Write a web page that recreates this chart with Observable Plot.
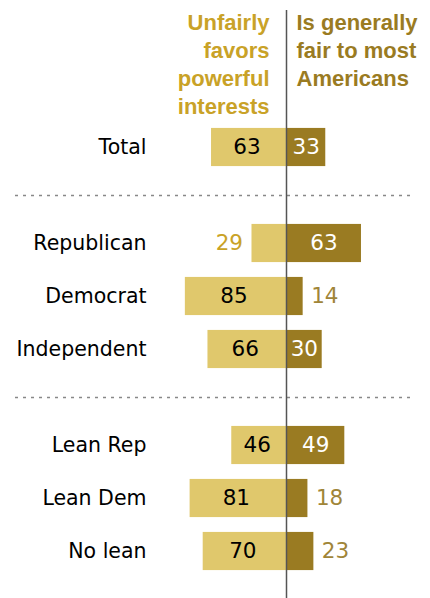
<!DOCTYPE html>
<html><head><meta charset="utf-8">
<script src="https://cdn.jsdelivr.net/npm/d3@7"></script>
<script src="https://cdn.jsdelivr.net/npm/@observablehq/plot@0.6"></script>
<style>body{margin:0;background:#fff}</style>
</head><body><div id="chart"></div>
<script>
const categories = ["Total", "Republican", "Democrat", "Independent", "Lean Rep", "Lean Dem", "No lean"];
const groups = [0, 1, 1, 1, 2, 2, 2];
const unfair = [63, 29, 85, 66, 46, 81, 70];
const fair = [33, 63, 14, 30, 49, 18, 23];
const headers = ["Unfairly\nfavors\npowerful\ninterests", "Is generally\nfair to most\nAmericans"];

const GAP = 43 / 53; // extra space between groups, in rows
const rows = categories.map((c, i) => ({category: c, group: groups[i], pos: i + groups[i] * GAP, unfair: unfair[i], fair: fair[i]}));
const separators = [1, 2].map(g => {
  const a = rows.filter(r => r.group === g - 1).at(-1), b = rows.find(r => r.group === g);
  return {pos: (a.pos + b.pos) / 2};
});
const maxPos = rows.at(-1).pos;
const H = 0.36;
const light = "#e0c86c", dark = "#9a7b22", gold = "#c9a227", darkText = "#a08538";
const MIN_IN = 30;

const plot = Plot.plot({
  width: 430, height: 598,
  marginTop: 10, marginBottom: 0, marginLeft: 15, marginRight: 17,
  x: {domain: [-100, 100], range: [167, 405], axis: null},
  y: {domain: [0, maxPos], range: [147, 551], axis: null},
  style: {fontFamily: "DejaVu Sans", background: "#fff"},
  marks: [
    Plot.ruleY(separators, {y: "pos", stroke: "#888", strokeWidth: 1.5, strokeDasharray: "3,5"}),
    Plot.rectX(rows, {x1: 0, x2: d => -d.unfair, y1: d => d.pos - H, y2: d => d.pos + H, fill: light}),
    Plot.rectX(rows, {x1: 0, x2: "fair", y1: d => d.pos - H, y2: d => d.pos + H, fill: dark}),
    Plot.ruleX([0], {stroke: "#555", strokeWidth: 1.5}),
    Plot.text(rows, {x: -100, dx: -21, y: "pos", text: "category", textAnchor: "end", fontSize: 20.5, fill: "#000"}),
    Plot.text(rows.filter(d => d.unfair >= MIN_IN), {x: d => -d.unfair / 2, dx: -2, y: "pos", text: "unfair", fontSize: 21.5, fill: "#000"}),
    Plot.text(rows.filter(d => d.unfair < MIN_IN), {x: d => -d.unfair, dx: -9, y: "pos", text: "unfair", textAnchor: "end", fontSize: 21.5, fill: gold}),
    Plot.text(rows.filter(d => d.fair >= MIN_IN), {x: d => d.fair / 2, y: "pos", text: "fair", fontSize: 21.5, fill: "#fff"}),
    Plot.text(rows.filter(d => d.fair < MIN_IN), {x: "fair", dx: 8, y: "pos", text: "fair", textAnchor: "start", fontSize: 21.5, fill: darkText}),
    Plot.text([headers[0]], {x: 0, dx: -17, frameAnchor: "top", dy: 0, text: d => d, textAnchor: "end", lineAnchor: "top", lineHeight: 1.27, fontSize: 22, fontWeight: "bold", fontFamily: "Liberation Sans", fill: gold}),
    Plot.text([headers[1]], {x: 0, dx: 10, frameAnchor: "top", dy: 0, text: d => d, textAnchor: "start", lineAnchor: "top", lineHeight: 1.27, fontSize: 22, fontWeight: "bold", fontFamily: "Liberation Sans", fill: dark})
  ]
});
document.getElementById("chart").append(plot);
</script>
</body></html>
